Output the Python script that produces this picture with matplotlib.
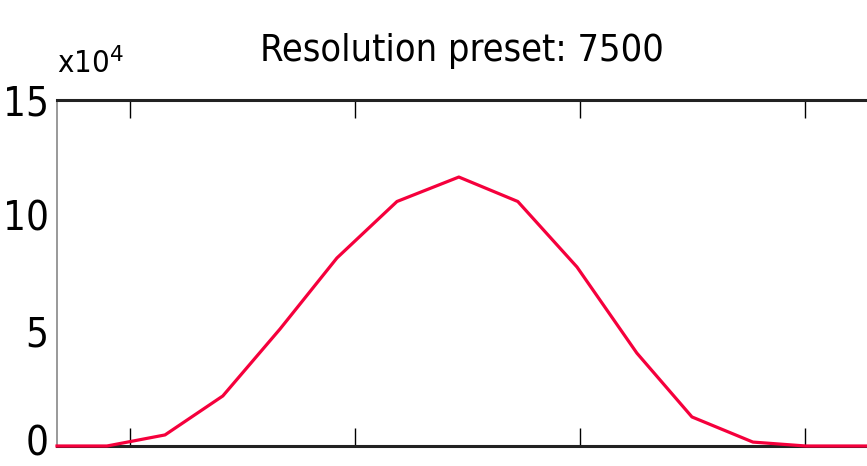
import matplotlib
matplotlib.use("Agg")
import matplotlib.pyplot as plt
from matplotlib.ticker import FuncFormatter, FixedLocator
from matplotlib import font_manager
from matplotlib.transforms import ScaledTranslation

# Data (x in tick units, y in raw counts)
x_vals = [0.676, 0.898, 1.156, 1.413, 1.667, 1.920, 2.187, 2.462,
          2.724, 2.987, 3.253, 3.498, 3.769, 4.004, 4.276]
y_vals = [0, 0, 4800, 21700, 50700, 81500, 106000, 116600,
          106000, 77600, 40300, 12600, 1700, 0, 0]
y_ticks = [0, 50000, 100000, 150000]
x_ticks = [1, 2, 3, 4]
title_text = "Resolution preset: 7500"

# look for a narrow / condensed sans font
cand = None
for f in font_manager.fontManager.ttflist:
    key = (f.name + " " + f.fname).lower()
    if ("narrow" in key or "condensed" in key) and "bold" not in key \
            and "italic" not in key and "oblique" not in key and "mono" not in key \
            and "serif" not in f.name.lower():
        if cand is None or "liberation" in key:
            cand = f.fname
plt.rcParams['font.family'] = ['Liberation Sans', 'DejaVu Sans']
fp = font_manager.FontProperties(fname=cand) if cand else font_manager.FontProperties(family='Liberation Sans')

fig = plt.figure(figsize=(8.67, 4.66), dpi=100)
ax = fig.add_axes([57/867, 1-446/466, 1-57/867, (446-100)/466])
ax.plot(x_vals, y_vals, color='#f5003c', lw=2.3, clip_on=False, zorder=5)
ax.set_xlim(0.676, 4.276)
ax.set_ylim(0, 150000)

ax.xaxis.set_major_locator(FixedLocator(x_ticks))
ax.yaxis.set_major_locator(FixedLocator(y_ticks))
ax.yaxis.set_major_formatter(FuncFormatter(lambda v, p: f"{v/1e4:g}"))
ax.tick_params(axis='x', direction='in', length=13, width=1.0, color='black',
               top=True, bottom=True, labelbottom=False)
ax.tick_params(axis='y', length=0, pad=6)

for s in ['top', 'bottom']:
    ax.spines[s].set_linewidth(2.2)
    ax.spines[s].set_color('#222222')
ax.spines['left'].set_linewidth(1.2)
ax.spines['left'].set_color('#888888')
ax.spines['right'].set_visible(False)

mult = ax.text(0.0, 1.06, r"x10$^{4}$", transform=ax.transAxes,
               ha='left', va='bottom', fontproperties=fp)
mult.set_fontsize(30)
title = ax.set_title(title_text, pad=28, fontproperties=fp)
title.set_fontsize(34)
for lab in ax.get_yticklabels():
    lab.set_fontproperties(fp)
    lab.set_fontsize(36)

# fit sizes to the reference widths (px)
fig.canvas.draw()
r = fig.canvas.get_renderer()

def fit(t, target_w, max_size):
    w = t.get_window_extent(r).width
    s = t.get_fontsize()
    t.set_fontsize(min(s * target_w / w, max_size))

fit(title, 405, 42)
fit(mult, 66, 40)
labs = ax.get_yticklabels()
lab15 = [l for l in labs if l.get_text() == "15"][0]
w15 = lab15.get_window_extent(r).width
ns = min(36 * 46 / w15, 44)
ax.tick_params(axis='y', labelsize=ns)
for lab in ax.get_yticklabels():
    lab.set_fontproperties(fp)
    lab.set_fontsize(ns)

# nudge the "0" label up slightly so it stays inside the canvas
t0 = ax.yaxis.get_major_ticks()[0]
t0.label1.set_transform(t0.label1.get_transform() +
                        ScaledTranslation(0, 4/72, fig.dpi_scale_trans))

fig.savefig("out.png", dpi=100)
